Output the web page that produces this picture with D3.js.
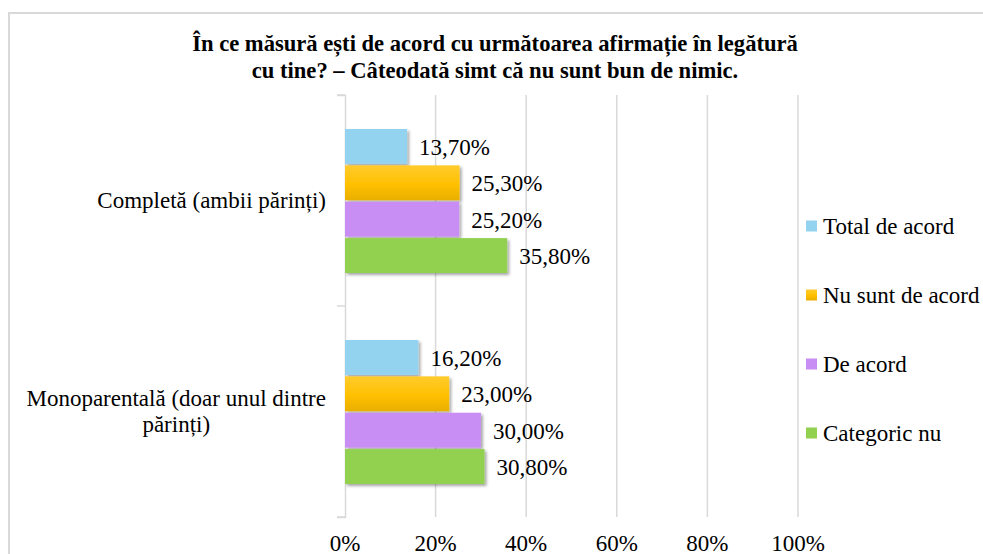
<!DOCTYPE html>
<html>
<head>
<meta charset="utf-8">
<script src="https://cdn.jsdelivr.net/npm/d3@7"></script>
<style>
	body { margin: 0; background: #fff; }
	svg text { font-family: 'Liberation Serif', 'DejaVu Serif', serif; fill: #000; }
</style>
</head>
<body>
<div id="chart"></div>
<script>
var categories = ['Completă (ambii părinți)', 'Monoparentală (doar unul dintre|părinți)'];
var seriesNames = ['Total de acord', 'Nu sunt de acord', 'De acord', 'Categoric nu'];
var totalDeAcord = [13.7, 16.2];
var nuSuntDeAcord = [25.3, 23.0];
var deAcord = [25.2, 30.0];
var categoricNu = [35.8, 30.8];
var tickValues = [0, 20, 40, 60, 80, 100];
var titleLines = ['În ce măsură ești de acord cu următoarea afirmație în legătură',
	'cu tine? – Câteodată simt că nu sunt bun de nimic.'];

var seriesValues = [totalDeAcord, nuSuntDeAcord, deAcord, categoricNu];
var colors = ['#93d3ef', '#ffc000', '#c88ef4', '#92d050'];

var width = 983;
var height = 554;
var serif = "'Liberation Serif', 'DejaVu Serif', serif";
var fontSize = '23px';

var svg = d3.select('#chart')
	.append('svg')
	.attr('width', width)
	.attr('height', height)
	.attr('font-family', serif);

var defs = svg.append('defs');
var shadow = defs.append('filter')
	.attr('id', 'shadow')
	.attr('x', '-10%').attr('y', '-20%')
	.attr('width', '130%').attr('height', '160%');
shadow.append('feDropShadow')
	.attr('dx', 2).attr('dy', 2)
	.attr('stdDeviation', 1.5)
	.attr('flood-color', '#000')
	.attr('flood-opacity', 0.35);

var grad = defs.append('linearGradient')
	.attr('id', 'orangeGrad')
	.attr('x1', 0).attr('y1', 0).attr('x2', 0).attr('y2', 1);
grad.append('stop').attr('offset', '0%').attr('stop-color', '#ffcb2e');
grad.append('stop').attr('offset', '55%').attr('stop-color', '#ffc000');
grad.append('stop').attr('offset', '100%').attr('stop-color', '#e9ae00');

// chart frame (cropped at right and bottom)
svg.append('path')
	.attr('d', 'M9,' + height + ' V13 H' + width)
	.attr('fill', 'none')
	.attr('stroke', '#d9d9d9')
	.attr('stroke-width', 2);

// title
svg.append('g')
	.selectAll('text')
	.data(titleLines)
	.enter()
	.append('text')
	.attr('x', 495)
	.attr('y', function(d, i){ return 51 + i * 27; })
	.attr('text-anchor', 'middle')
	.style('font-family', serif)
	.style('font-weight', 'bold')
	.style('font-size', '22.6px')
	.text(function(d){ return d; });

var x = d3.scaleLinear()
	.domain([0, 100])
	.range([345, 798]);

var y0 = d3.scaleBand()
	.domain(categories)
	.range([95, 517]);

var y1 = d3.scaleBand()
	.domain(seriesNames)
	.range([34, 178])
	.paddingInner(0.04);

// gridlines
svg.append('g')
	.selectAll('line')
	.data(tickValues.slice(1))
	.enter()
	.append('line')
	.attr('x1', function(d){ return x(d); })
	.attr('x2', function(d){ return x(d); })
	.attr('y1', 95)
	.attr('y2', 517)
	.attr('stroke', '#d9d9d9')
	.attr('stroke-width', 1.5);

// x tick labels
svg.append('g')
	.selectAll('text')
	.data(tickValues)
	.enter()
	.append('text')
	.attr('x', function(d){ return x(d); })
	.attr('y', 551)
	.attr('text-anchor', 'middle')
	.style('font-family', serif)
	.style('font-size', fontSize)
	.text(function(d){ return d + '%'; });

// category axis
var yAxis = d3.axisLeft(y0)
	.tickSize(8)
	.tickFormat('');
var yAxisG = svg.append('g')
	.attr('transform', 'translate(' + x(0) + ',0)')
	.call(yAxis);
yAxisG.selectAll('.tick').remove();
yAxisG.select('.domain')
	.attr('stroke', '#d9d9d9')
	.attr('stroke-width', 1.5);
yAxisG.selectAll('.sep')
	.data([95, 306, 517])
	.enter()
	.append('line')
	.attr('class', 'sep')
	.attr('x1', -8).attr('x2', 0)
	.attr('y1', function(d){ return d; })
	.attr('y2', function(d){ return d; })
	.attr('stroke', '#d9d9d9')
	.attr('stroke-width', 1.5);

// category labels
categories.forEach(function(cat){
	var lines = cat.split('|');
	var g = svg.append('g');
	var t = g.selectAll('text')
		.data(lines)
		.enter()
		.append('text')
		.attr('text-anchor', 'middle')
		.attr('dominant-baseline', 'central')
		.style('font-family', serif)
		.style('font-size', fontSize)
		.text(function(d){ return d; });
	var maxW = 0;
	t.each(function(){ maxW = Math.max(maxW, this.getComputedTextLength()); });
	var cy = y0(cat) + y0.bandwidth() / 2;
	var lineH = 26;
	t.attr('x', 326 - maxW / 2)
		.attr('y', function(d, i){ return cy - (lines.length - 1) * lineH / 2 + i * lineH; });
});

// bars
var groups = svg.append('g')
	.selectAll('g')
	.data(categories)
	.enter()
	.append('g')
	.attr('transform', function(d){ return 'translate(0,' + y0(d) + ')'; });

groups.selectAll('rect')
	.data(function(d, ci){
		return seriesNames.map(function(s, si){
			return {series: s, idx: si, value: seriesValues[si][ci]};
		});
	})
	.enter()
	.append('rect')
	.attr('x', x(0))
	.attr('y', function(d){ return y1(d.series); })
	.attr('width', function(d){ return x(d.value) - x(0); })
	.attr('height', y1.bandwidth())
	.attr('fill', function(d){ return d.idx === 1 ? 'url(#orangeGrad)' : colors[d.idx]; })
	.attr('filter', 'url(#shadow)');

groups.selectAll('.label')
	.data(function(d, ci){
		return seriesNames.map(function(s, si){
			return {series: s, value: seriesValues[si][ci]};
		});
	})
	.enter()
	.append('text')
	.attr('class', 'label')
	.attr('x', function(d){ return x(d.value) + 12; })
	.attr('y', function(d){ return y1(d.series) + y1.bandwidth() / 2 + 1; })
	.attr('dominant-baseline', 'central')
	.style('font-family', serif)
	.style('font-size', fontSize)
	.text(function(d){ return d.value.toFixed(2).replace('.', ',') + '%'; });

// legend
var legend = svg.append('g')
	.selectAll('.legend')
	.data(seriesNames)
	.enter()
	.append('g')
	.attr('class', 'legend')
	.attr('transform', function(d, i){ return 'translate(806,' + (226 + i * 69) + ')'; });

legend.append('rect')
	.attr('x', 0)
	.attr('y', -5.5)
	.attr('width', 11)
	.attr('height', 11)
	.attr('fill', function(d, i){ return i === 1 ? 'url(#orangeGrad)' : colors[i]; });

legend.append('text')
	.attr('x', 17)
	.attr('y', 0)
	.attr('dominant-baseline', 'central')
	.style('font-family', serif)
	.style('font-size', fontSize)
	.text(function(d){ return d; });
</script>
</body>
</html>
